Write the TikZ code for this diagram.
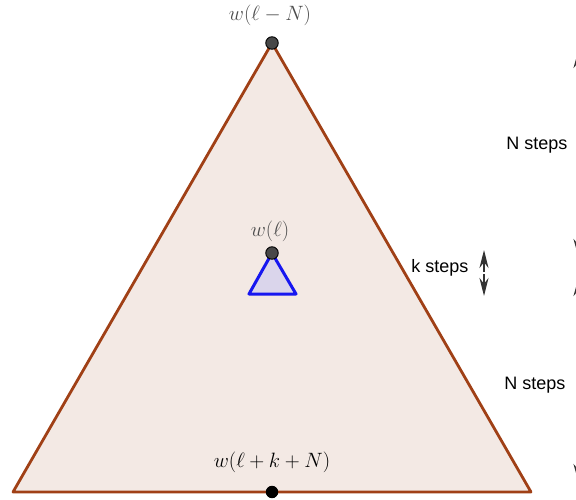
\documentclass[tikz,border=0pt]{standalone}
\usepackage{fontspec}
\newfontfamily\stepsfont{Liberation Sans}
\usetikzlibrary{calc, arrows.meta}
\definecolor{edgebrown}{RGB}{160,64,22}
\definecolor{facepink}{RGB}{243,233,228}
\definecolor{subblue}{RGB}{22,22,240}
\definecolor{subfill}{RGB}{218,213,235}
\definecolor{dotgray}{RGB}{72,72,72}

\begin{document}
\begin{tikzpicture}[x=1pt, y=-1pt,
    vertex/.style={circle, fill=#1, draw=black, line width=0.9pt, inner sep=0pt, minimum size=12.5pt},
    wlabel/.style={font=\fontsize{21.5}{25}\selectfont},
    steplabel/.style={font=\stepsfont\fontsize{18}{21}\selectfont},
    steparrow/.style={line width=2pt, draw=black!80}]
    \useasboundingbox (0,0) rectangle (576,500);
    % big triangle
    \coordinate (Top) at (272,43);
    \coordinate (BL) at (13,492);
    \coordinate (BR) at (531,492);
    \coordinate (Bot) at (272,492);
    \filldraw[fill=facepink, draw=edgebrown, line width=2.8pt, line join=round] (Top) -- (BL) -- (BR) -- cycle;
    % small triangle below w(l)
    \coordinate (Mid) at (272,253);
    \filldraw[fill=subfill, draw=subblue, line width=3pt, line join=round] (Mid) -- (249,294) -- (296,294) -- cycle;
    \node[vertex=dotgray] (top) at (Top) {};
    \node[vertex=dotgray] (mid) at (Mid) {};
    \node[vertex=black, minimum size=11.5pt] (bot) at (Bot) {};
    \node[wlabel, text=black!70] (ltop) at (270,15) {$w(\ell-N)$};
    \node[wlabel, text=black!70] (lmid) at (270,231) {$w(\ell)$};
    \node[wlabel] (lbot) at (272,462) {$w(\ell+k+N)$};
    % step labels and arrows
    \node[steplabel] (nup) at (537,145) {N steps};
    \node[steplabel] (kst) at (440,268) {k steps};
    \node[steplabel] (ndown) at (535,385) {N steps};
    \coordinate (k1) at (484,250);
    \coordinate (k2) at (484,296);
    \draw[steparrow, -{Stealth[length=18pt,width=9pt]}] ($(k1)!0.5!(k2)+(0,-1)$) -- (k1);
    \draw[steparrow, -{Stealth[length=18pt,width=9pt]}] ($(k1)!0.5!(k2)+(0,1)$) -- (k2);
    \coordinate (a1) at (578,52);
    \coordinate (a2) at (578,255);
    \coordinate (a3) at (578,280);
    \coordinate (a4) at (578,480);
    \draw[steparrow, {Stealth[length=16pt,width=9pt]}-{Stealth[length=16pt,width=9pt]}] (a1) -- (a2);
    \draw[steparrow, {Stealth[length=16pt,width=9pt]}-{Stealth[length=16pt,width=9pt]}] (a3) -- (a4);
\end{tikzpicture}
\end{document}
